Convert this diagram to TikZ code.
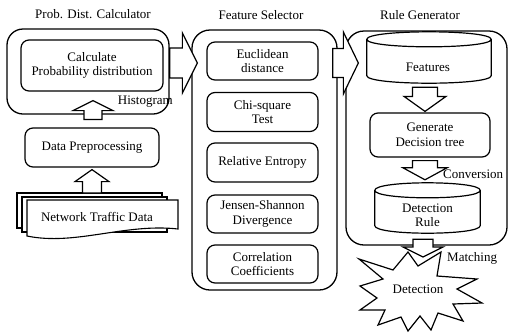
\documentclass[tikz,border=0pt]{standalone}
\usepackage{fontspec}
\setmainfont{Liberation Serif}
\usetikzlibrary{calc}
\tikzset{
  outerbox/.style={draw, line width=1.3pt, rounded corners=16pt, inner sep=0pt},
  innerbox/.style={draw, line width=1.2pt, rounded corners=8pt, align=center, fill=white, inner sep=0pt},
  blk/.style={draw, line width=1.2pt, fill=white, line join=miter},
  cylst/.style={draw, line width=1.2pt, fill=white},
  page/.style={draw, line width=1.1pt, fill=white},
  txt/.style={inner sep=0pt, align=center},
}
\newcommand\vup[5]{\draw[blk] let \p1=(#1), \p2=(#2) in
  (\x1-#5pt,\y1) -- (\x1-#5pt,\y2-#3pt) -- (\x1-#4pt,\y2-#3pt) -- (\x1,\y2) --
  (\x1+#4pt,\y2-#3pt) -- (\x1+#5pt,\y2-#3pt) -- (\x1+#5pt,\y1) -- cycle;}
\newcommand\vdown[5]{\draw[blk] let \p1=(#1), \p2=(#2) in
  (\x1-#5pt,\y1) -- (\x1-#5pt,\y2+#3pt) -- (\x1-#4pt,\y2+#3pt) -- (\x1,\y2) --
  (\x1+#4pt,\y2+#3pt) -- (\x1+#5pt,\y2+#3pt) -- (\x1+#5pt,\y1) -- cycle;}
\newcommand\hright[5]{\draw[blk] let \p1=(#1), \p2=(#2) in
  (\x1,\y1+#5pt) -- (\x2-#3pt,\y1+#5pt) -- (\x2-#3pt,\y1+#4pt) -- (\x2,\y1) --
  (\x2-#3pt,\y1-#4pt) -- (\x2-#3pt,\y1-#5pt) -- (\x1,\y1-#5pt) -- cycle;}
\newcommand\cyl[1]{\draw[cylst] let \p1=(#1.north west), \p2=(#1.south east) in
  (\x1,\y1-7.5pt) -- (\x1,\y2+7.5pt) .. controls (\x1,\y2-2.5pt) and (\x2,\y2-2.5pt) .. (\x2,\y2+7.5pt)
  -- (\x2,\y1-7.5pt) .. controls (\x2,\y1+2.5pt) and (\x1,\y1+2.5pt) .. (\x1,\y1-7.5pt) -- cycle
  (\x1,\y1-7.5pt) .. controls (\x1,\y1-17.5pt) and (\x2,\y1-17.5pt) .. (\x2,\y1-7.5pt);}
\begin{document}
\begin{tikzpicture}[x=1pt,y=-1pt,font=\fontsize{13}{14.5}\selectfont]
\useasboundingbox[fill=white] (0,0) rectangle (509,333);

% titles
\node[txt] (t1) at (93,14) {Prob. Dist. Calculator};
\node[txt] (t2) at (261,15) {Feature Selector};
\node[txt] (t3) at (420,15) {Rule Generator};

% left column
\node[txt, anchor=east] (hist) at (173,102) {Histogram};
\node[outerbox, minimum width=162pt, minimum height=85pt] (pdc) at (88,71.5) {};
\node[innerbox, minimum width=142pt, minimum height=51pt] (calc) at (92,65.5) {Calculate\\Probability distribution};
\node[innerbox, minimum width=134pt, minimum height=39pt] (dp) at (92,147.5) {Data Preprocessing};

\draw[page] (17,193) rectangle (162,228);
\draw[page] (22,197) rectangle (167,232);
\draw[page] (27,200) -- (178,200) -- (178,229) .. controls (125,223) and (75,246) .. (27,236) -- cycle;
\node[txt] (ntd) at (97,217) {Network Traffic Data};

% feature selector
\node[outerbox, rounded corners=18pt, minimum width=145pt, minimum height=260pt] (fs) at (264.5,160) {};
\node[innerbox, minimum width=111pt, minimum height=38pt] (e1) at (262.5,61) {Euclidean\\distance};
\node[innerbox, minimum width=111pt, minimum height=39pt] (e2) at (262.5,112) {Chi-square\\Test};
\node[innerbox, minimum width=111pt, minimum height=39pt] (e3) at (262.5,162.5) {Relative Entropy};
\node[innerbox, minimum width=111pt, minimum height=38pt] (e4) at (262.5,214) {Jensen-Shannon\\Divergence};
\node[innerbox, minimum width=111pt, minimum height=38pt] (e5) at (262.5,264) {Correlation\\Coefficients};

% rule generator
\node[outerbox, rounded corners=18pt, minimum width=161pt, minimum height=214pt] (rg) at (426.5,138) {};
\node[inner sep=0pt, minimum width=124pt, minimum height=51pt] (feat) at (429,57.5) {};
\cyl{feat}
\node[txt] (featt) at (428,67) {Features};
\node[innerbox, minimum width=120pt, minimum height=44pt] (gdt) at (430,135) {Generate\\Decision tree};
\node[inner sep=0pt, minimum width=105pt, minimum height=50pt] (drule) at (427.5,208) {};
\cyl{drule}
\node[txt] (drulet) at (427.5,215.5) {Detection\\Rule};
\node[txt, anchor=west] (conv) at (443,174) {Conversion};
\node[txt, anchor=west] (match) at (447,258) {Matching};

% detection star
\node[txt] (det) at (418,289) {Detection};
\begin{scope}[shift={(det.center)}]
\draw[line width=1.2pt, line join=miter]
  (-59,-30) -- (-25,-19) -- (-10,-37) -- (0,-23) -- (23,-37) -- (19,-13) --
  (59,-10) -- (39,0) -- (64,14) -- (35,15) -- (45,32) -- (20,24) -- (13,41) --
  (2,27) -- (-10,42) -- (-17,28) -- (-40,36) -- (-33,21) -- (-58,21) -- (-41,9) --
  (-58,-3) -- (-35,-10) -- cycle;
\end{scope}

% block arrows
\coordinate (aS) at ($(dp.north)+(1,-8)$);
\coordinate (aT) at ($(calc.south)+(1,9)$);
\vup{aS}{aT}{10}{20}{9}
\coordinate (bS) at ($(ntd.center)+(-5,-24)$);
\coordinate (bT) at ($(dp.south)+(-1,2)$);
\vup{bS}{bT}{12}{17}{9.5}
\coordinate (r1s) at ($(pdc.east)+(0,-8.5)$);
\coordinate (r1t) at ($(fs.west |- r1s)+(6,0)$);
\hright{r1s}{r1t}{15}{30}{15}
\coordinate (r2s) at ($(fs.east |- r1s)+(-5,0)$);
\coordinate (r2t) at ($(rg.west |- r1s)+(13,0)$);
\hright{r2s}{r2t}{15}{31}{14.5}
\coordinate (cS) at ($(feat.south)+(-4,4)$);
\coordinate (cT) at ($(gdt.north)+(-5,-1)$);
\vdown{cS}{cT}{15}{21}{12.5}
\coordinate (dS) at ($(gdt.south)+(-5,3)$);
\coordinate (dT) at ($(drule.north)+(-2,-3)$);
\vdown{dS}{dT}{12}{22}{12.5}
\coordinate (eS) at ($(drule.south)+(-4.5,6)$);
\coordinate (eT) at ($(det.center)+(5,-32)$);
\vdown{eS}{eT}{10}{20}{10}
\end{tikzpicture}
\end{document}
